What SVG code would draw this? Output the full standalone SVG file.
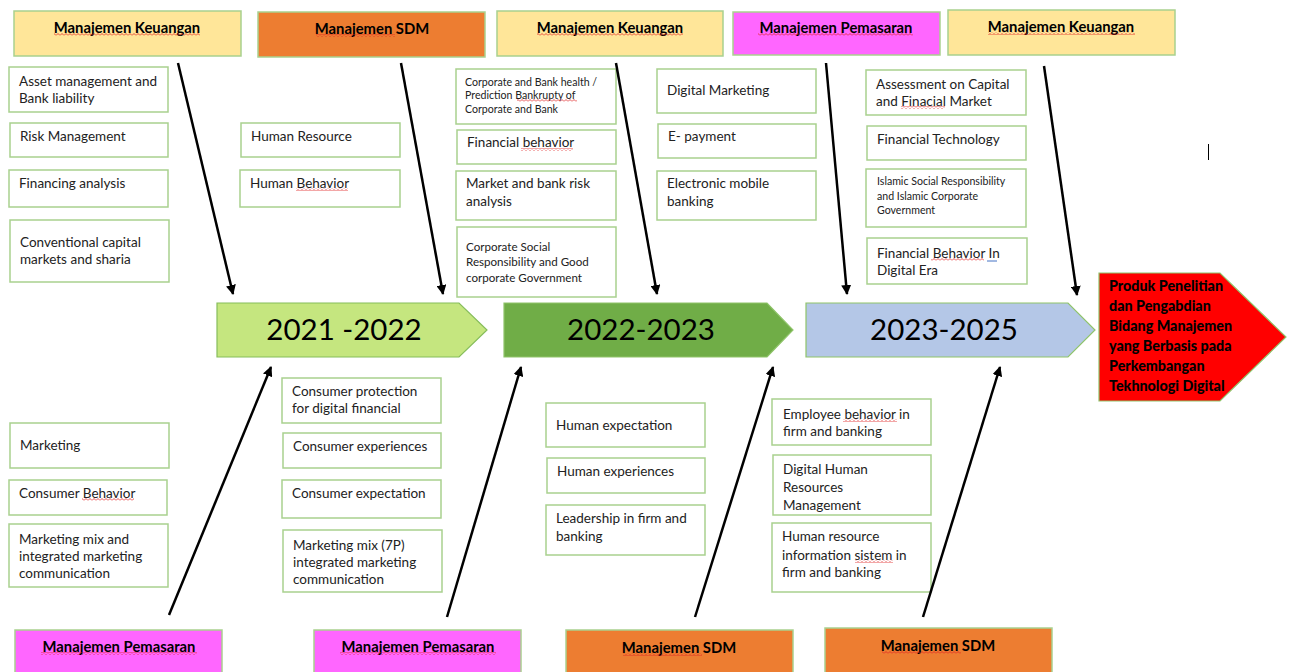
<svg xmlns="http://www.w3.org/2000/svg" width="1295" height="672" viewBox="0 0 1295 672">
<style>
.bg{fill:#ffffff}
.box{fill:#ffffff;stroke:#A9D18E;stroke-width:1.5}
.hk{fill:#FFE699;stroke:#A9D18E;stroke-width:1.5}
.hs{fill:#ED7D31;stroke:#A9D18E;stroke-width:1.5}
.hp{fill:#FF66FF;stroke:#A9D18E;stroke-width:1.5}
.ht{font-family:Lato,"Liberation Sans",sans-serif;font-weight:bold;font-size:14.8px;fill:#000;text-anchor:middle}
.t{font-family:Lato,"Liberation Sans",sans-serif;font-size:13.5px;fill:#222}
.ts{font-family:Lato,"Liberation Sans",sans-serif;font-size:10.6px;fill:#222}
.tm{font-family:Lato,"Liberation Sans",sans-serif;font-size:11.6px;fill:#222}
.yr{font-family:Lato,"Liberation Sans",sans-serif;font-size:29.5px;fill:#000;text-anchor:middle}
.rt{font-family:Lato,"Liberation Sans",sans-serif;font-weight:900;font-size:14.3px;fill:#000}
.ar{stroke:#000;stroke-width:2.5;fill:none;marker-end:url(#ah)}
.sq{fill:url(#zig)}
</style>
<defs>
<marker id="ah" viewBox="0 0 10 10" refX="9" refY="5" markerWidth="4" markerHeight="4" orient="auto" markerUnits="strokeWidth">
<path d="M0,0 L10,5 L0,10 z" fill="#000"/>
</marker>
<pattern id="zig" patternUnits="userSpaceOnUse" width="4" height="3">
<path d="M0,2.5 L2,0.5 L4,2.5" stroke="#E02020" stroke-width="0.8" fill="none"/>
</pattern>
</defs>
<rect class="bg" x="0" y="0" width="1295" height="672"/>

<g id="header-keuangan-1"><rect class="hk" x="14" y="11" width="227" height="45"/><text class="ht" x="127" y="33">Manajemen Keuangan</text><rect class="sq" x="54" y="33" width="146" height="3"/></g>
<g id="header-sdm-1"><rect class="hs" x="258" y="12" width="227" height="45"/><text class="ht" x="372" y="34">Manajemen SDM</text><rect class="sq" x="316" y="34" width="79" height="3"/></g>
<g id="header-keuangan-2"><rect class="hk" x="497" y="11" width="226" height="45"/><text class="ht" x="610" y="33">Manajemen Keuangan</text><rect class="sq" x="537" y="33" width="146" height="3"/></g>
<g id="header-pemasaran-1"><rect class="hp" x="733" y="12" width="207" height="43"/><text class="ht" x="836" y="33">Manajemen Pemasaran</text><rect class="sq" x="758" y="33" width="155" height="3"/></g>
<g id="header-keuangan-3"><rect class="hk" x="948" y="10" width="227" height="45"/><text class="ht" x="1061" y="32">Manajemen Keuangan</text><rect class="sq" x="988" y="32" width="147" height="3"/></g>

<g id="k1-asset"><rect class="box" x="9" y="67" width="159" height="45"/><text class="t" x="19" y="86">Asset management and</text><text class="t" x="19" y="103">Bank liability</text></g>
<g id="k1-risk"><rect class="box" x="10" y="123" width="158" height="34"/><text class="t" x="20" y="141">Risk Management</text></g>
<g id="k1-financing"><rect class="box" x="9" y="170" width="159" height="37"/><text class="t" x="19" y="188">Financing analysis</text></g>
<g id="k1-conventional"><rect class="box" x="10" y="220" width="159" height="62"/><text class="t" x="20" y="247">Conventional capital</text><text class="t" x="20" y="264">markets and sharia</text></g>

<g id="s1-resource"><rect class="box" x="241" y="123" width="159" height="34"/><text class="t" x="251" y="141">Human Resource</text></g>
<g id="s1-behavior"><rect class="box" x="240" y="170" width="160" height="37"/><text class="t" x="250" y="188">Human Behavior</text><rect class="sq" x="296" y="188" width="52" height="3"/></g>

<g id="k2-health"><rect class="box" x="456" y="69" width="160" height="55"/><text class="ts" x="465" y="86">Corporate and Bank health /</text><text class="ts" x="465" y="99">Prediction Bankrupty of</text><text class="ts" x="465" y="113">Corporate and Bank</text><rect class="sq" x="517" y="99" width="60" height="3"/></g>
<g id="k2-finbehavior"><rect class="box" x="457" y="130" width="159" height="34"/><text class="t" x="467" y="147">Financial behavior</text><rect class="sq" x="521" y="148" width="52" height="3"/></g>
<g id="k2-market"><rect class="box" x="456" y="171" width="160" height="49"/><text class="t" x="466" y="188">Market and bank risk</text><text class="t" x="466" y="206">analysis</text></g>
<g id="k2-csr"><rect class="box" x="457" y="227" width="159" height="70"/><text class="tm" x="466" y="251">Corporate Social</text><text class="tm" x="466" y="266">Responsibility and Good</text><text class="tm" x="466" y="282">corporate Government</text></g>

<g id="p1-digital"><rect class="box" x="657" y="69" width="159" height="44"/><text class="t" x="667" y="95">Digital Marketing</text></g>
<g id="p1-epayment"><rect class="box" x="658" y="124" width="158" height="34"/><text class="t" x="668" y="141">E- payment</text></g>
<g id="p1-mobile"><rect class="box" x="657" y="171" width="159" height="49"/><text class="t" x="667" y="188">Electronic mobile</text><text class="t" x="667" y="206">banking</text></g>

<g id="k3-assessment"><rect class="box" x="866" y="70" width="160" height="45"/><text class="t" x="876" y="89">Assessment on Capital</text><text class="t" x="876" y="106">and Finacial Market</text><rect class="sq" x="901" y="106" width="44" height="3"/></g>
<g id="k3-fintech"><rect class="box" x="867" y="126" width="159" height="34"/><text class="t" x="877" y="144">Financial Technology</text></g>
<g id="k3-islamic"><rect class="box" x="866" y="169" width="160" height="58"/><text class="ts" x="877" y="185">Islamic Social Responsibility</text><text class="ts" x="877" y="200">and Islamic Corporate</text><text class="ts" x="877" y="214">Government</text></g>
<g id="k3-digitalera"><rect class="box" x="867" y="238" width="160" height="46"/><text class="t" x="877" y="258">Financial Behavior In</text><text class="t" x="877" y="275">Digital Era</text><rect class="sq" x="931" y="258" width="53" height="3"/><line x1="987" y1="261" x2="997" y2="261" stroke="#4472C4" stroke-width="1"/></g>

<g id="cursor"><line x1="1208.5" y1="144" x2="1208.5" y2="160" stroke="#000" stroke-width="1"/></g>

<g id="year-2021-2022"><path d="M217,303 H459 L487,330 L459,357 H217 Z" fill="#C5E67F" stroke="#86BD5B" stroke-width="1.2"/><text class="yr" x="344" y="340">2021 -2022</text></g>
<g id="year-2022-2023"><path d="M504,303 H767 L793,330 L767,357 H504 Z" fill="#70AD47" stroke="#8FC46A" stroke-width="1.2"/><text class="yr" x="641" y="340">2022-2023</text></g>
<g id="year-2023-2025"><path d="M806,303 H1068 L1095,330 L1068,357 H806 Z" fill="#B4C7E7" stroke="#8FC46A" stroke-width="1.2"/><text class="yr" x="944" y="340">2023-2025</text></g>

<g id="result"><path d="M1099,273 H1220 L1286,337 L1220,401 H1099 Z" fill="#FF0000" stroke="#8FC46A" stroke-width="1.2"/>
<text class="rt" x="1109" y="291">Produk Penelitian</text><text class="rt" x="1109" y="311">dan Pengabdian</text><text class="rt" x="1109" y="331">Bidang Manajemen</text><text class="rt" x="1109" y="351">yang Berbasis pada</text><text class="rt" x="1109" y="371">Perkembangan</text><text class="rt" x="1109" y="391">Tekhnologi Digital</text></g>

<g id="p2-marketing"><rect class="box" x="10" y="423" width="159" height="45"/><text class="t" x="20" y="450">Marketing</text></g>
<g id="p2-consumer"><rect class="box" x="9" y="480" width="158" height="35"/><text class="t" x="19" y="498">Consumer Behavior</text><rect class="sq" x="82" y="498" width="52" height="3"/></g>
<g id="p2-mix"><rect class="box" x="9" y="524" width="159" height="63"/><text class="t" x="19" y="544">Marketing mix and</text><text class="t" x="19" y="561">integrated marketing</text><text class="t" x="19" y="578">communication</text></g>

<g id="p3-protection"><rect class="box" x="282" y="378" width="159" height="45"/><text class="t" x="292" y="396">Consumer protection</text><text class="t" x="292" y="413">for digital financial</text></g>
<g id="p3-experiences"><rect class="box" x="283" y="433" width="158" height="35"/><text class="t" x="293" y="451">Consumer experiences</text></g>
<g id="p3-expectation"><rect class="box" x="282" y="480" width="159" height="38"/><text class="t" x="292" y="498">Consumer expectation</text></g>
<g id="p3-mix7p"><rect class="box" x="283" y="530" width="159" height="62"/><text class="t" x="293" y="550">Marketing mix (7P)</text><text class="t" x="293" y="567">integrated marketing</text><text class="t" x="293" y="584">communication</text></g>

<g id="s2-expectation"><rect class="box" x="546" y="403" width="159" height="44"/><text class="t" x="556" y="430">Human expectation</text></g>
<g id="s2-experiences"><rect class="box" x="547" y="458" width="158" height="35"/><text class="t" x="557" y="476">Human experiences</text></g>
<g id="s2-leadership"><rect class="box" x="546" y="505" width="159" height="50"/><text class="t" x="556" y="523">Leadership in firm and</text><text class="t" x="556" y="541">banking</text></g>

<g id="s3-employee"><rect class="box" x="772" y="399" width="159" height="46"/><text class="t" x="783" y="419">Employee behavior in</text><text class="t" x="783" y="436">firm and banking</text><rect class="sq" x="843" y="419" width="54" height="3"/></g>
<g id="s3-digitalhr"><rect class="box" x="773" y="455" width="158" height="60"/><text class="t" x="783" y="474">Digital Human</text><text class="t" x="783" y="492">Resources</text><text class="t" x="783" y="510">Management</text></g>
<g id="s3-hris"><rect class="box" x="772" y="523" width="159" height="69"/><text class="t" x="782" y="541">Human resource</text><text class="t" x="782" y="560">information sistem in</text><text class="t" x="782" y="577">firm and banking</text><rect class="sq" x="855" y="560" width="38" height="3"/></g>

<g id="footer-pemasaran-1"><rect class="hp" x="15" y="630" width="207" height="45"/><text class="ht" x="119" y="652">Manajemen Pemasaran</text><rect class="sq" x="41" y="652" width="156" height="3"/></g>
<g id="footer-pemasaran-2"><rect class="hp" x="314" y="630" width="207" height="45"/><text class="ht" x="418" y="652">Manajemen Pemasaran</text><rect class="sq" x="340" y="652" width="156" height="3"/></g>
<g id="footer-sdm-1"><rect class="hs" x="566" y="630" width="227" height="45"/><text class="ht" x="679" y="653">Manajemen SDM</text><rect class="sq" x="623" y="653" width="79" height="3"/></g>
<g id="footer-sdm-2"><rect class="hs" x="825" y="628" width="227" height="47"/><text class="ht" x="938" y="651">Manajemen SDM</text><rect class="sq" x="882" y="651" width="79" height="3"/></g>

<g id="connectors">
<line class="ar" x1="178" y1="63" x2="233" y2="294"/>
<line class="ar" x1="401" y1="63" x2="443" y2="294"/>
<line class="ar" x1="616" y1="63" x2="657" y2="294"/>
<line class="ar" x1="826" y1="63" x2="847" y2="294"/>
<line class="ar" x1="1044" y1="66" x2="1077" y2="295"/>
<line class="ar" x1="169" y1="615" x2="271" y2="367"/>
<line class="ar" x1="447" y1="617" x2="521" y2="367"/>
<line class="ar" x1="695" y1="617" x2="773" y2="367"/>
<line class="ar" x1="923" y1="617" x2="1000" y2="367"/>
</g>
</svg>
